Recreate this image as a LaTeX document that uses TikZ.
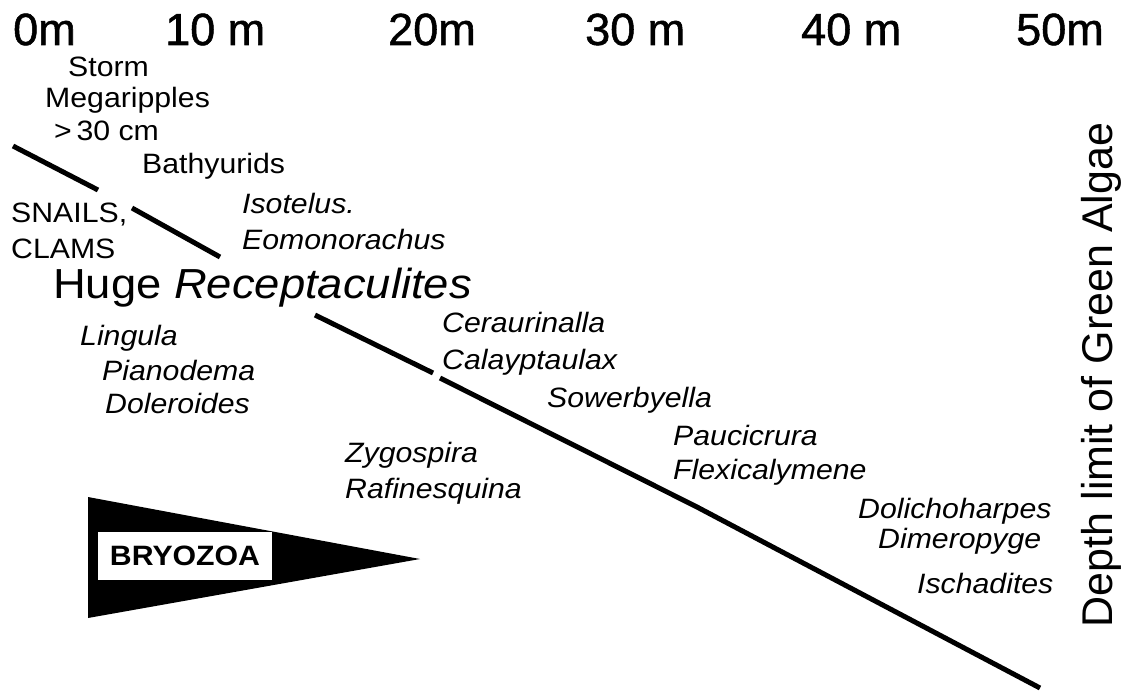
\documentclass[tikz,border=0pt]{standalone}
\usepackage{fontspec}
\setmainfont{Liberation Sans}
\newfontfamily\labfont[FakeStretch=1.08]{Liberation Sans}
\newfontfamily\hdrfont[FakeBold=1.2]{Liberation Sans}
\begin{document}
\begin{tikzpicture}[x=1pt,y=-1pt,
  hdr/.style={anchor=base west, inner sep=0pt, font=\hdrfont\fontsize{45}{50}\selectfont},
  lbl/.style={anchor=base west, inner sep=0pt, font=\labfont\fontsize{28}{32}\selectfont},
  sp/.style={anchor=base west, inner sep=0pt, font=\labfont\itshape\fontsize{28}{32}\selectfont},
  zone/.style={line width=5pt, black},
]
\useasboundingbox (0,0) rectangle (1123,693);
\fill[white] (0,0) rectangle (1123,693);

% depth scale
\node[hdr] (h0) at (13,45) {0m};
\node[hdr] (h10) at (165,45) {10 m};
\node[hdr] (h20) at (388,45) {20m};
\node[hdr] (h30) at (585,45) {30 m};
\node[hdr] (h40) at (801,45) {40 m};
\node[hdr] (h50) at (1016,45) {50m};

% boundary line
\draw[zone] (13,146) -- (98,190);
\draw[zone] (132,208) -- (220,257);
\draw[zone] (315,315) -- (433,373);
\draw[zone] (440,378) -- (697,507) -- (1040,688);

% labels
\node[lbl] (storm) at (68,77) {Storm};
\node[lbl] (mega) at (45,107) {Megaripples};
\node[lbl] (cm) at (54,140) {>\,30 cm};
\node[lbl] (bathy) at (142,173) {Bathyurids};
\node[lbl] (snails) at (11,222) {SNAILS,};
\node[lbl] (clams) at (11,258) {CLAMS};
\node[sp] (iso) at (242,213) {Isotelus.};
\node[sp] (eom) at (242,249) {Eomonorachus};
\node[anchor=base west, inner sep=0pt, font=\labfont\fontsize{42}{46}\selectfont] (huge) at (53,298) {Huge \textit{Receptaculites}};
\node[sp] (ling) at (80,345) {Lingula};
\node[sp] (pian) at (102,380) {Pianodema};
\node[sp] (dole) at (105,413) {Doleroides};
\node[sp] (cera) at (442,332) {Ceraurinalla};
\node[sp] (cala) at (442,369) {Calayptaulax};
\node[sp] (sowe) at (547,407) {Sowerbyella};
\node[sp] (pauc) at (673,445) {Paucicrura};
\node[sp] (flex) at (673,479) {Flexicalymene};
\node[sp] (zygo) at (345,462) {Zygospira};
\node[sp] (rafi) at (345,498) {Rafinesquina};
\node[sp] (doli) at (858,518) {Dolichoharpes};
\node[sp] (dime) at (878,548) {Dimeropyge};
\node[sp] (isch) at (917,593) {Ischadites};

% green algae limit
\node[rotate=90, anchor=base, inner sep=0pt, font=\fontsize{43}{48}\selectfont] (algae) at (1112,375) {Depth limit of Green Algae};

% bryozoa wedge
\fill[black] (88,497) -- (420,559) -- (88,618) -- cycle;
\node[draw=none, fill=white, minimum width=174pt, minimum height=48pt, inner sep=0pt,
      font=\labfont\bfseries\fontsize{28}{32}\selectfont] (bryo) at (185,556) {BRYOZOA};
\end{tikzpicture}
\end{document}
